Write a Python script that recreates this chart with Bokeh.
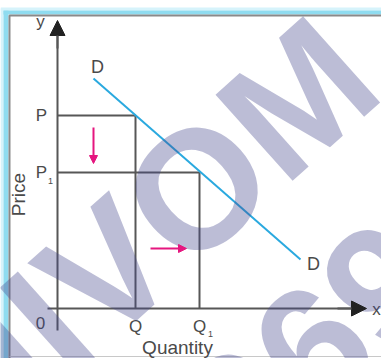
from bokeh.plotting import figure
from bokeh.models import Range1d, Arrow, NormalHead
from bokeh.core.properties import value
from bokeh.embed import file_html
from bokeh.resources import INLINE

# Demand curve D-D (quantity, price)
demand_q = [3.6, 24.3]
demand_p = [23.0, 4.9]

# Price levels and the quantities demanded at them
price_levels = [19.3, 13.6]
price_labels = ["P", "P"]
price_subs = ["", "1"]
qty_levels = [7.8, 14.2]
qty_labels = ["Q", "Q"]
qty_subs = ["", "1"]

# Shift arrows: price falls, quantity rises
price_arrow = [3.6, 18.1, 3.6, 14.5]   # x0, y0, x1, y1
qty_arrow = [9.3, 6.0, 12.9, 6.0]

INK = "#4a4a4a"
AXIS = "#575757"
FONT = value("Liberation Sans")

p = figure(width=381, height=358, x_range=Range1d(-5.7, 32.4), y_range=Range1d(-5.0, 30.8),
           toolbar_location=None, output_backend="svg", min_border=0)
p.axis.visible = False
p.grid.visible = False
p.outline_line_color = None
p.background_fill_color = "white"
p.border_fill_color = "white"

# pixel -> data helpers for the page frame
def dx(px):
    return (px - 57) / 10.0

def dy(py):
    return (308 - py) / 10.0

# framed page edge: cyan glow with grey rule
p.quad(left=dx(0), right=dx(3), top=dy(8), bottom=dy(360), color="#d6f3fb", line_color=None)
p.quad(left=dx(3), right=dx(8), top=dy(10), bottom=dy(360), color="#8fdcf0", line_color=None)
p.quad(left=dx(0), right=dx(390), top=dy(7), bottom=dy(10), color="#d6f3fb", line_color=None)
p.quad(left=dx(3), right=dx(390), top=dy(10), bottom=dy(14), color="#8fdcf0", line_color=None)
p.line([dx(9), dx(9), dx(390)], [dy(360), dy(15), dy(15)], line_color="#8a8a8a", line_width=2)
p.line([dx(9), dx(390)], [dy(356), dy(356)], line_color="#c8c8c8", line_width=1)

# guide lines from price levels to the curve and down to quantities
for pr, q in zip(price_levels, qty_levels):
    p.line([0, q, q], [pr, pr, 0], line_color=AXIS, line_width=2)

# axes with arrow heads
p.line([0, 0], [-2.2, 27.5], line_color=AXIS, line_width=2)
p.line([-1.0, 29.6], [0, 0], line_color=AXIS, line_width=2)
p.add_layout(Arrow(end=NormalHead(size=15, fill_color="#222", line_color="#222"),
                   x_start=0, y_start=26.0, x_end=0, y_end=28.8, line_color=AXIS, line_width=2))
p.add_layout(Arrow(end=NormalHead(size=15, fill_color="#222", line_color="#222"),
                   x_start=28.0, y_start=0, x_end=30.9, y_end=0, line_color=AXIS, line_width=2))

# demand curve
p.line(demand_q, demand_p, line_color="#2aa9df", line_width=2)

# shift arrows
for a in (price_arrow, qty_arrow):
    p.add_layout(Arrow(end=NormalHead(size=8, fill_color="#e5167f", line_color="#e5167f"),
                       x_start=a[0], y_start=a[1], x_end=a[2], y_end=a[3],
                       line_color="#e5167f", line_width=2))

# labels
def label(x, y, s, size="17px", angle=0.0, align="center"):
    p.text(x=[x], y=[y], text=[s], text_font=FONT, text_font_size=size, text_color=INK,
           text_align=align, text_baseline="middle", angle=angle)

label(dx(97), dy(66), "D", size="18px")
label(dx(313), dy(263), "D", size="18px")
for pr, s, sub in zip(price_levels, price_labels, price_subs):
    label(-1.6, pr, s)
    if sub:
        label(-0.7, pr - 0.8, sub, size="9px")
for q, s, sub in zip(qty_levels, qty_labels, qty_subs):
    label(q, -1.8, s)
    if sub:
        label(q + 1.1, -2.5, sub, size="9px")
label(-1.7, -1.4, "0")
label(-1.7, 28.7, "y")
label(31.9, -0.1, "x")
label(12.0, -3.9, "Quantity", size="19px")
label(-3.9, 11.4, "Price", size="19px", angle=1.5708)

# watermark
WM = "#46488c"
p.text(x=[dx(172)], y=[dy(210)], text=["IIVOM"], text_font=FONT, text_font_style="bold",
       text_font_size="168px", text_color=WM, text_alpha=0.36, text_align="center",
       text_baseline="middle", angle=0.73)
p.text(x=[dx(312)], y=[dy(346)], text=["969"], text_font=FONT, text_font_style="bold",
       text_font_size="168px", text_color=WM, text_alpha=0.36, text_align="center",
       text_baseline="middle", angle=0.73)

open("out.html", "w").write(file_html(p, INLINE))
